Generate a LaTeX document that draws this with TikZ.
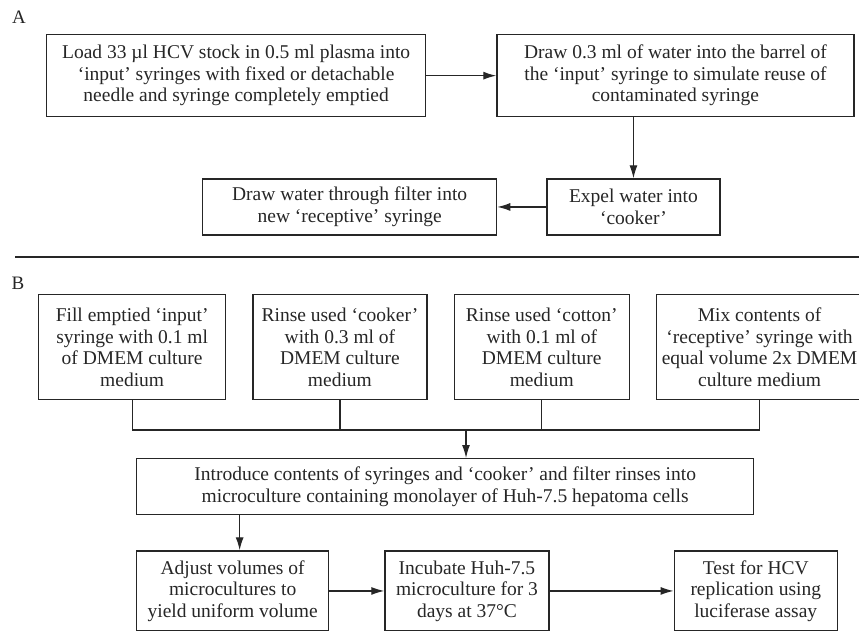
\documentclass[tikz,border=0pt]{standalone}
\usepackage{fontspec}
\setmainfont{Liberation Serif}
\usepackage{tikz}
\usetikzlibrary{arrows.meta, calc, positioning}
\tikzstyle{box} = [rectangle, line width=1.3pt, inner sep=0pt, align=center, draw=black!85, text=black!85, font=\fontsize{19.5}{21.5}\selectfont]
\tikzstyle{panel} = [font=\fontsize{19}{22}\selectfont, text=black!85]
\tikzstyle{arrow} = [line width=1.2pt, draw=black!85, -{Latex[length=13pt,width=8pt]}]
\tikzstyle{line} = [line width=1.1pt, draw=black!85]

\begin{document}
\begin{tikzpicture}[x=1pt, y=-1pt]
		\useasboundingbox (0,0) rectangle (859,630);
		% panel A
		\node (LabelA) [panel] at (19,17) {A};
		\node (Load) [box, minimum width=379pt, minimum height=82pt, anchor=north west] at (46,34) {Load 33 µl HCV stock in 0.5 ml plasma into\\`input' syringes with fixed or detachable\\needle and syringe completely emptied};
		\node (Barrel) [box, minimum width=357pt, minimum height=82pt, right = 70pt of Load] {Draw 0.3 ml of water into the barrel of\\the `input' syringe to simulate reuse of\\contaminated syringe};
		\node (Expel) [box, minimum width=173pt, minimum height=56pt, below = 61pt of Barrel.south west, anchor=north west, xshift=50pt] {Expel water into\\`cooker'};
		\node (Filter) [box, minimum width=294pt, minimum height=56pt, left = 49pt of Expel] {Draw water through filter into\\new `receptive' syringe};
		\draw [arrow] (Load) -- (Barrel);
		\draw [arrow] (Expel.north |- Barrel.south) -- (Expel);
		\draw [arrow] (Expel) -- (Filter);
		\coordinate (DivLeft) at (15,257);
		\coordinate (DivRight) at (859,257);
		\draw [line] (DivLeft) -- (DivRight);
		% panel B
		\node (LabelB) [panel] at (18,283) {B};
		\node (FillInput) [box, minimum width=187pt, minimum height=105pt, anchor=north west] at (38,294) {Fill emptied `input'\\syringe with 0.1 ml\\of DMEM culture\\medium};
		\node (RinseCooker) [box, minimum width=174pt, minimum height=105pt, right = 26pt of FillInput] {Rinse used `cooker'\\with 0.3 ml of\\DMEM culture\\medium};
		\node (RinseCotton) [box, minimum width=175pt, minimum height=105pt, right = 26pt of RinseCooker] {Rinse used `cotton'\\with 0.1 ml of\\DMEM culture\\medium};
		\node (MixReceptive) [box, minimum width=206pt, minimum height=105pt, right = 26pt of RinseCotton] {Mix contents of\\`receptive' syringe with\\equal volume 2x DMEM\\culture medium};
		\node (Introduce) [box, minimum width=617pt, minimum height=56pt, anchor=north west] at (136,458) {Introduce contents of syringes and `cooker' and filter rinses into\\microculture containing monolayer of Huh-7.5 hepatoma cells};
		\node (Adjust) [box, minimum width=192pt, minimum height=80pt, below = 35pt of Introduce.south west, anchor=north west] {Adjust volumes of\\microcultures to\\yield uniform volume};
		\node (Incubate) [box, minimum width=164pt, minimum height=80pt, right = 55pt of Adjust] {Incubate Huh-7.5\\microculture for 3\\days at 37°C};
		\node (Test) [box, minimum width=163pt, minimum height=80pt, right = 124pt of Incubate] {Test for HCV\\replication using\\luciferase assay};
		\coordinate (Bus) at (466,430);
		\draw [line] (FillInput.south) |- (MixReceptive.south |- Bus) -- (MixReceptive.south);
		\draw [line] (RinseCooker.south) -- (RinseCooker.south |- Bus);
		\draw [line] (RinseCotton.south) -- (RinseCotton.south |- Bus);
		\draw [arrow] (Bus) -- (Bus |- Introduce.north);
		\draw [arrow] ([xshift=7pt]Adjust.north |- Introduce.south) -- ([xshift=7pt]Adjust.north);
		\draw [arrow] (Adjust) -- (Incubate);
		\draw [arrow] (Incubate) -- (Test);
\end{tikzpicture}
\end{document}
